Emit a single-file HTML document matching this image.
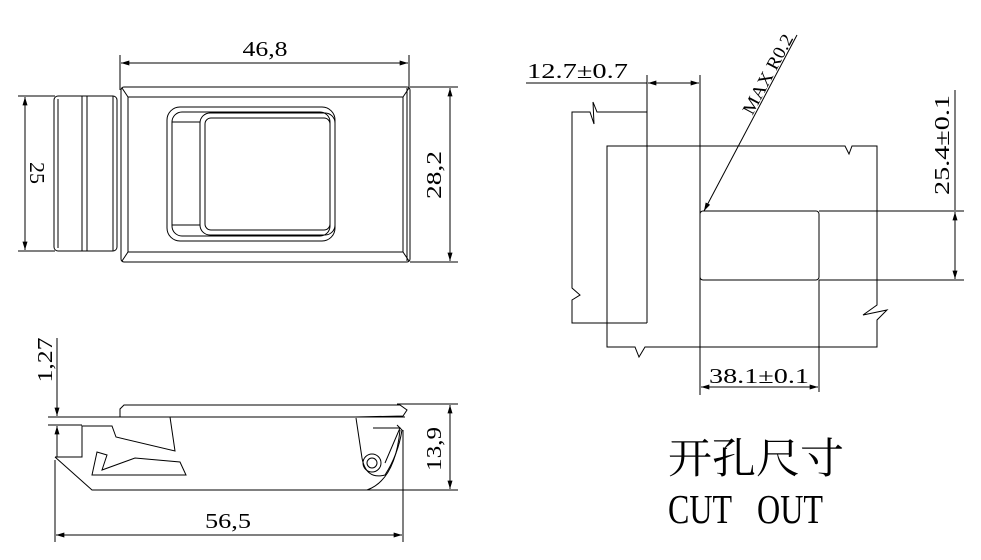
<!DOCTYPE html>
<html><head><meta charset="utf-8"><style>body{margin:0;background:#fff}svg{display:block}</style></head>
<body>
<svg width="981" height="560" viewBox="0 0 981 560" xmlns="http://www.w3.org/2000/svg">
<defs>
<marker id="a" viewBox="0 0 10 6" refX="10" refY="3" markerWidth="16" markerHeight="5" markerUnits="userSpaceOnUse" orient="auto-start-reverse"><path d="M0,0L10,3L0,6z" fill="#000"/></marker>
</defs>
<g stroke="#000" stroke-width="1" fill="none">
<line x1="120" y1="55" x2="120" y2="90"/><line x1="409" y1="55" x2="409" y2="88"/>
<line x1="121" y1="63" x2="408" y2="63" marker-start="url(#a)" marker-end="url(#a)"/>
<rect x="121" y="87" width="289" height="175" rx="3"/>
<rect x="128" y="97" width="275" height="155"/>
<line x1="407" y1="88" x2="407" y2="261"/>
<line x1="122" y1="88" x2="128" y2="97"/><line x1="409" y1="88" x2="403" y2="97"/>
<line x1="122" y1="261" x2="128" y2="252"/><line x1="409" y1="261" x2="403" y2="252"/>
<rect x="167" y="107" width="168" height="134" rx="13"/>
<rect x="172" y="112" width="158" height="124" rx="10"/>
<rect x="200" y="113" width="135" height="122" rx="10"/>
<rect x="205" y="118" width="125" height="112" rx="6"/>
<line x1="172" y1="122" x2="200" y2="122"/><line x1="172" y1="225" x2="200" y2="225"/>
<rect x="54" y="96" width="63" height="155" rx="4"/>
<line x1="58" y1="99" x2="58" y2="248"/>
<line x1="82" y1="96" x2="82" y2="251"/><line x1="87" y1="96" x2="87" y2="251"/>
<line x1="113" y1="96" x2="113" y2="251"/>
<line x1="18" y1="96" x2="55" y2="96"/><line x1="18" y1="251" x2="55" y2="251"/>
<line x1="25" y1="97" x2="25" y2="250" marker-start="url(#a)" marker-end="url(#a)"/>
<line x1="410" y1="87" x2="458" y2="87"/><line x1="410" y1="262" x2="458" y2="262"/>
<line x1="450" y1="88" x2="450" y2="261" marker-start="url(#a)" marker-end="url(#a)"/>
<line x1="57" y1="338" x2="57" y2="416" marker-end="url(#a)"/>
<line x1="57" y1="457" x2="57" y2="426" marker-end="url(#a)"/>
<line x1="48" y1="417" x2="355" y2="417"/><line x1="48" y1="425" x2="82" y2="425"/>
<path d="M120,417 L120,409 L124,405 L400,405 L407,410 L403,416 L355,417"/>
<line x1="355" y1="417" x2="405" y2="417"/>
<path d="M55,457 L92,490 L367,490 Q395,480 400,430"/>
<path d="M55,457 L82,457 L82,426 L112,426 L116,437 L175,451 L170,417"/>
<path d="M92,475 L97,452 L107,455 L102,470 L135,458 L180,462 L186,475 Z"/>
<path d="M356,418 L362,458 Q366,480 385,475 Q398,455 402,430 L397,425"/>
<circle cx="372" cy="463" r="9"/><circle cx="372" cy="463" r="5"/>
<path d="M373,428 L400,428 L385,463"/>
<line x1="397" y1="404" x2="458" y2="404"/><line x1="367" y1="490" x2="458" y2="490"/>
<line x1="450" y1="405" x2="450" y2="489" marker-start="url(#a)" marker-end="url(#a)"/>
<line x1="55" y1="460" x2="55" y2="542"/><line x1="403" y1="430" x2="403" y2="542"/>
<line x1="56" y1="535" x2="402" y2="535" marker-start="url(#a)" marker-end="url(#a)"/>
<line x1="526" y1="83" x2="647" y2="83"/>
<line x1="648" y1="83" x2="666" y2="83" marker-start="url(#a)"/>
<line x1="682" y1="83" x2="699" y2="83" marker-end="url(#a)"/>
<line x1="666" y1="83" x2="682" y2="83"/>
<line x1="647" y1="75" x2="647" y2="323"/><line x1="700" y1="75" x2="700" y2="395"/>
<path d="M647,112 L597,112 L593,102 L594,124 L590,112 L572,112 L572,288 L580,295 L572,300 L572,323 L647,323"/>
<path d="M607,146 L845,146 L849,154 L852,146 L877,146 L877,305 L863,315 L887,310 L877,320 L877,347 L645,347 L639,357 L635,347 L607,347 Z"/>
<rect x="700" y="211" width="119" height="69" rx="3"/>
<line x1="819" y1="211" x2="964" y2="211"/><line x1="819" y1="280" x2="964" y2="280"/>
<line x1="819" y1="280" x2="819" y2="392"/>
<line x1="701" y1="387" x2="818" y2="387" marker-start="url(#a)" marker-end="url(#a)"/>
<line x1="955" y1="90" x2="955" y2="210"/>
<line x1="955" y1="212" x2="955" y2="279" marker-start="url(#a)" marker-end="url(#a)"/>
<line x1="797" y1="35" x2="704" y2="211" marker-end="url(#a)"/>
</g>
<g font-family="Liberation Serif, serif" font-size="21" fill="#000">
<text x="265" y="56" text-anchor="middle" textLength="45" lengthAdjust="spacingAndGlyphs">46,8</text>
<text transform="translate(30,173) rotate(90)" text-anchor="middle" textLength="22" lengthAdjust="spacingAndGlyphs">25</text>
<text transform="translate(441,175) rotate(-90)" text-anchor="middle" textLength="48" lengthAdjust="spacingAndGlyphs">28,2</text>
<text transform="translate(52,360) rotate(-90)" text-anchor="middle" textLength="45" lengthAdjust="spacingAndGlyphs">1,27</text>
<text transform="translate(441,449) rotate(-90)" text-anchor="middle" textLength="44" lengthAdjust="spacingAndGlyphs">13,9</text>
<text x="228" y="528" text-anchor="middle" textLength="46" lengthAdjust="spacingAndGlyphs">56,5</text>
<text x="527" y="78" textLength="101" lengthAdjust="spacingAndGlyphs">12.7±0.7</text>
<text x="759" y="383" text-anchor="middle" textLength="100" lengthAdjust="spacingAndGlyphs">38.1±0.1</text>
<text transform="translate(949,145) rotate(-90)" text-anchor="middle" textLength="100" lengthAdjust="spacingAndGlyphs">25.4±0.1</text>
<text transform="translate(773,77) rotate(-62)" text-anchor="middle" font-size="18" textLength="88" lengthAdjust="spacingAndGlyphs">MAX R0.2</text>
</g>
<text x="668" y="473" font-family="Liberation Serif, 'Noto Serif CJK SC', serif" font-size="42" textLength="176" lengthAdjust="spacingAndGlyphs">开孔尺寸</text>
<text x="668" y="523" font-family="Liberation Serif, serif" font-size="41" textLength="64" lengthAdjust="spacingAndGlyphs">CUT</text>
<text x="757" y="523" font-family="Liberation Serif, serif" font-size="41" textLength="66" lengthAdjust="spacingAndGlyphs">OUT</text>
</svg>
</body></html>
